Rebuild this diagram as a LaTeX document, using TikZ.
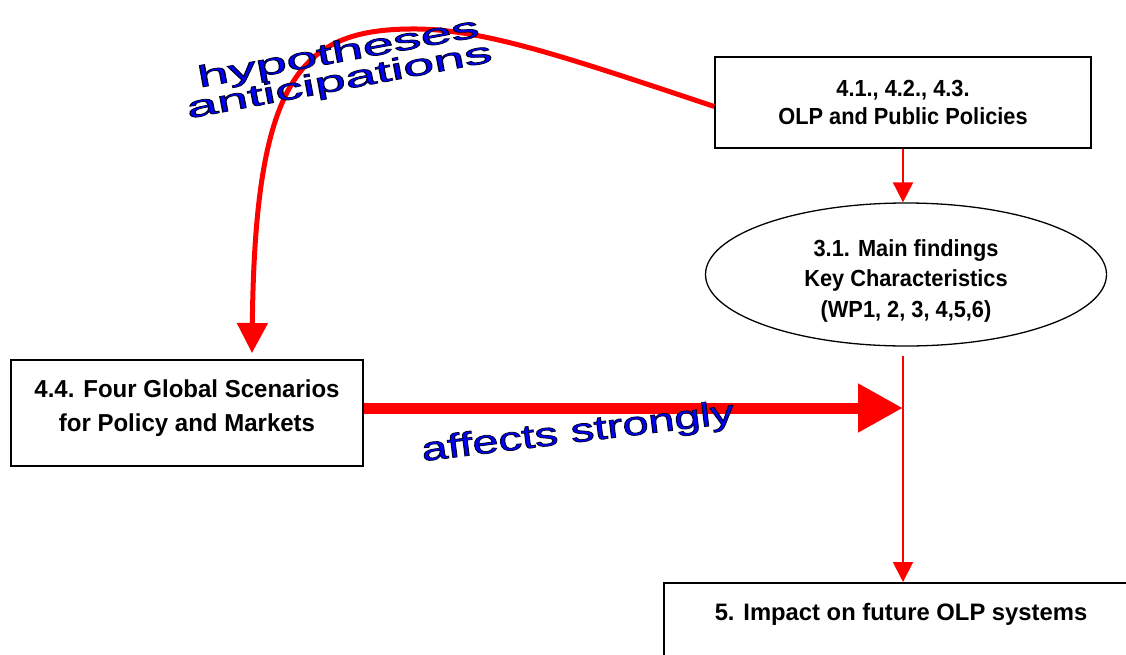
\documentclass[tikz,border=0pt]{standalone}
\usepackage{fontspec}
\setmainfont{Liberation Sans}
\newfontfamily\boxfontA[FakeStretch=0.935]{Liberation Sans}
\newfontfamily\boxfontB[FakeStretch=0.98]{Liberation Sans}
\usetikzlibrary{shapes.geometric,arrows.meta}
\definecolor{wablue}{RGB}{0,0,255}
\definecolor{redline}{RGB}{255,0,0}
\newcommand{\outlinetext}[1]{{\color{wablue}\special{pdf:code q 0 0 0.15 RG 0.75 w 2 Tr}#1\special{pdf:code Q}}}
\begin{document}
\begin{tikzpicture}[x=1pt,y=-1pt,
  box/.style={draw=black,line width=1.6pt,rectangle,inner sep=0pt,align=center},
  oval/.style={draw=black,line width=1.3pt,ellipse,inner sep=0pt,align=center},
  txt/.style={inner sep=0pt,align=center},
  thinred/.style={draw=redline,line width=2pt,-{Triangle[length=20pt,width=20pt]}},
  bigred/.style={draw=redline,fill=redline,line width=11pt,-{Triangle[length=45pt,width=46pt]}},
  curvered/.style={draw=redline,line width=5pt,-{Triangle[length=30pt,width=30pt]}},
  walabel/.style={inner sep=0pt,anchor=base}]
\clip (0,0) rectangle (1126,654);
\fill[white] (0,0) rectangle (1126,654);

\node[box,minimum width=376pt,minimum height=91pt,font=\boxfontA\bfseries\fontsize{23.3}{28}\selectfont] (opl) at (903,102.5) {4.1., 4.2., 4.3.\\OLP and Public Policies};
\node[oval,minimum width=401pt,minimum height=143pt,
  label={[txt,yshift=-6pt,font=\boxfontA\bfseries\fontsize{23.3}{30.5}\selectfont]center:{3.1. Main findings\\Key Characteristics\\(WP1, 2, 3, 4,5,6)}}] (find) at (906,274.5) {};
\node[box,minimum width=352pt,minimum height=106pt,
  label={[txt,yshift=5pt,font=\boxfontB\bfseries\fontsize{24.5}{34}\selectfont]center:{4.4. Four Global Scenarios\\for Policy and Markets}}] (scen) at (187,413) {};
\node[box,minimum width=476pt,minimum height=100pt,anchor=north west] (impact) at (663,582) {};
\node[inner sep=0pt,anchor=base,font=\bfseries\fontsize{23.8}{28}\selectfont] (impacttext) at (901,620) {5. Impact on future OLP systems};

\coordinate (hit) at (903,408);
\coordinate (tipL) at (252,353);

\draw[thinred] (opl.south) -- (opl.south |- find.north);
\draw[thinred,shorten <=9pt] (find.south -| hit) -- (impact.north -| hit);
\draw[bigred] ([yshift=5pt]scen.east) -- (hit);
\draw[curvered] ([yshift=-4pt]opl.west) .. controls (560,55) and (480,28) .. (410,29) .. controls (300,30) and (255,80) .. (tipL);

\node[walabel,rotate=10.3] (hyp) at (340,62) {\scalebox{1.86}[1]{\fontsize{30}{30}\selectfont\outlinetext{hypotheses}}};
\node[walabel,rotate=10.6] (anti) at (341,90) {\scalebox{1.86}[1]{\fontsize{30}{30}\selectfont\outlinetext{anticipations}}};
\node[walabel,rotate=7] (aff) at (579,442) {\scalebox{1.4}[1]{\fontsize{33.5}{33.5}\selectfont\outlinetext{affects strongly}}};
\end{tikzpicture}
\end{document}
